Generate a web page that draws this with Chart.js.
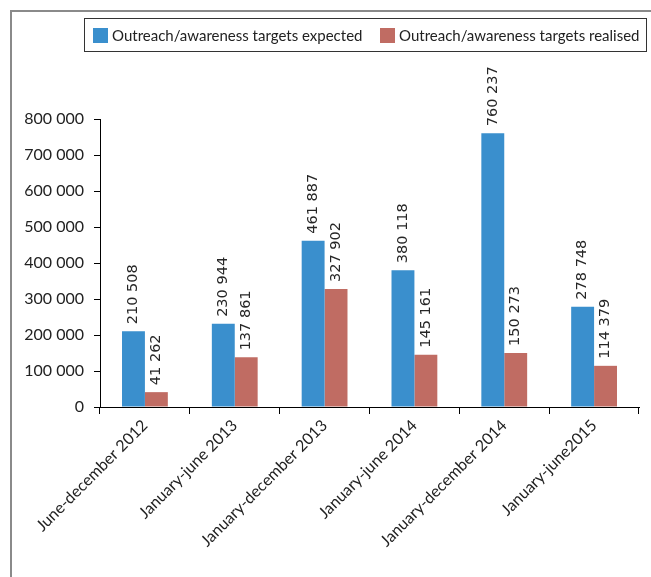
<!DOCTYPE html>
<html>
<head>
<meta charset="utf-8">
<script src="https://cdn.jsdelivr.net/npm/chart.js@4.4.1/dist/chart.umd.min.js"></script>
<style>
  html, body { margin: 0; padding: 0; background: #fff; }
  #wrap { position: relative; width: 651px; height: 577px; overflow: hidden; }
  #frame { position: absolute; left: 10px; top: 10px; width: 700px; height: 700px;
           border-left: 2px solid #8a8a8a; border-top: 2px solid #8a8a8a; }
  #legend { position: absolute; left: 84px; top: 18px; width: 561px; height: 32px;
            border: 1.5px solid #333; font-family: Lato, sans-serif; font-size: 15px; color: #222; }
  .item { position: absolute; top: 0; height: 32px; line-height: 32px; white-space: nowrap; }
  .sw { position: absolute; top: 9px; width: 15px; height: 15px; }
  .lbl { position: absolute; left: 19px; top: 0; }
  canvas { position: absolute; left: 0; top: 0; }
</style>
</head>
<body>
<div id="wrap">
  <div id="frame"></div>
  <canvas id="chart" width="651" height="577"></canvas>
  <div id="legend"></div>
</div>
<script>
// Periods on the x axis
const periods = [
  'June-december 2012',
  'January-june 2013',
  'January-december 2013',
  'January-june 2014',
  'January-december 2014',
  'January-june2015'
];

// Series values
const expected = [210508, 230944, 461887, 380118, 760237, 278748];
const realised = [41262, 137861, 327902, 145161, 150273, 114379];

const seriesNames = ['Outreach/awareness targets expected', 'Outreach/awareness targets realised'];
const seriesColors = ['#3a8fcd', '#c06c63'];

// y axis ticks
const yMin = 0, yMax = 800000, yStep = 100000;

function spaced(n) {
  return String(n).replace(/\B(?=(\d{3})+(?!\d))/g, ' ');
}

// Legend in a bordered box
const legend = document.getElementById('legend');
const legendX = [8, 295];
seriesNames.forEach((name, i) => {
  const item = document.createElement('div');
  item.className = 'item';
  item.style.left = legendX[i] + 'px';
  item.innerHTML = '<span class="sw" style="background:' + seriesColors[i] + '"></span><span class="lbl">' + name + '</span>';
  legend.appendChild(item);
});

// Vertical value labels above each bar
const valueLabels = {
  id: 'valueLabels',
  afterDatasetsDraw(chart) {
    const ctx = chart.ctx;
    ctx.save();
    ctx.font = '14.5px "DejaVu Sans", sans-serif';
    ctx.fillStyle = '#262626';
    ctx.textAlign = 'left';
    ctx.textBaseline = 'middle';
    chart.data.datasets.forEach((ds, di) => {
      chart.getDatasetMeta(di).data.forEach((bar, i) => {
        ctx.save();
        ctx.translate(bar.x, bar.y - 7);
        ctx.rotate(-Math.PI / 2);
        ctx.fillText(spaced(ds.data[i]), 0, 0);
        ctx.restore();
      });
    });
    ctx.restore();
  }
};

const axisFont = { family: 'Lato, sans-serif', size: 16 };

new Chart(document.getElementById('chart'), {
  type: 'bar',
  data: {
    labels: periods,
    datasets: [
      { label: seriesNames[0], data: expected, backgroundColor: seriesColors[0] },
      { label: seriesNames[1], data: realised, backgroundColor: seriesColors[1] }
    ]
  },
  options: {
    responsive: false,
    animation: false,
    events: [],
    layout: { padding: { top: 119, right: 12, left: 0, bottom: 0 } },
    datasets: { bar: { categoryPercentage: 0.51, barPercentage: 1 } },
    plugins: { legend: { display: false }, tooltip: { enabled: false } },
    scales: {
      x: {
        grid: { drawOnChartArea: false, drawTicks: true, tickLength: 7, color: '#000', offset: true },
        border: { color: '#000', width: 1 },
        ticks: { font: axisFont, color: '#222', minRotation: 45, maxRotation: 45, padding: 2 },
        afterFit(scale) { scale.height = 170; }
      },
      y: {
        min: yMin,
        max: yMax,
        grid: { drawOnChartArea: false, drawTicks: true, tickLength: 6, color: '#000' },
        border: { color: '#000', width: 1 },
        ticks: { stepSize: yStep, font: axisFont, color: '#222', padding: 10, callback: v => spaced(v) },
        afterFit(scale) { scale.width = 100; }
      }
    }
  },
  plugins: [valueLabels]
});
</script>
</body>
</html>
